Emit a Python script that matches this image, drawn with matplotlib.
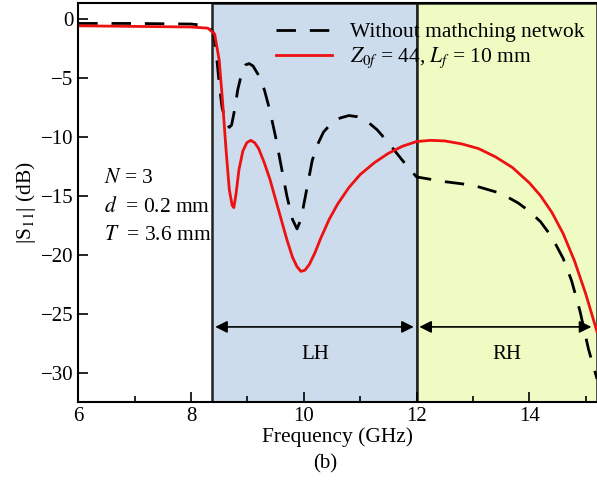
import numpy as np
import matplotlib
matplotlib.use("Agg")
import matplotlib.pyplot as plt
from matplotlib.ticker import MultipleLocator

plt.rcParams["font.family"] = ["Liberation Serif", "DejaVu Serif"]
plt.rcParams["mathtext.fontset"] = "stix"

# |S11| without matching network (black dashed)
f_ref = [6.0, 7.0, 8.0, 8.3, 8.4, 8.45, 8.5, 8.55, 8.62, 8.68, 8.72, 8.77, 8.83, 8.9,
         8.97, 9.03, 9.1, 9.2, 9.3, 9.4, 9.5, 9.6, 9.7, 9.8, 9.88, 9.95, 10.05, 10.15,
         10.25, 10.35, 10.5, 10.65, 10.8, 10.95, 11.1, 11.3, 11.5, 11.75, 12.0, 12.5,
         13.0, 13.5, 13.8, 14.0, 14.2, 14.4, 14.6, 14.75, 14.9, 15.05, 15.2]
s_ref = [-0.4, -0.4, -0.45, -0.6, -1.2, -3.0, -5.5, -7.5, -8.8, -9.2, -9.0, -7.8, -6.0,
         -4.6, -3.9, -3.8, -4.0, -4.8, -6.0, -7.8, -10.0, -12.5, -15.0, -17.0, -17.8,
         -17.0, -14.5, -12.0, -10.6, -9.6, -8.8, -8.4, -8.2, -8.3, -8.6, -9.4, -10.5,
         -12.0, -13.4, -13.8, -14.1, -14.8, -15.6, -16.3, -17.2, -18.5, -20.3, -22.2,
         -24.8, -28.0, -30.5]

# |S11| with matching network Z0f = 44, Lf = 10 mm (red)
f_mat = [6.0, 7.0, 8.0, 8.3, 8.42, 8.5, 8.56, 8.62, 8.68, 8.73, 8.76, 8.8, 8.85, 8.92,
         8.99, 9.06, 9.13, 9.2, 9.3, 9.4, 9.5, 9.6, 9.7, 9.8, 9.88, 9.95, 10.02, 10.1,
         10.2, 10.3, 10.45, 10.6, 10.8, 11.0, 11.25, 11.5, 11.75, 12.0, 12.25, 12.5,
         12.8, 13.1, 13.4, 13.7, 14.0, 14.2, 14.4, 14.6, 14.8, 15.0, 15.2]
s_mat = [-0.6, -0.65, -0.7, -0.8, -1.3, -3.5, -7.0, -11.0, -14.5, -15.8, -16.0, -14.8,
         -12.8, -11.2, -10.5, -10.3, -10.5, -11.0, -12.2, -13.6, -15.3, -17.0, -18.7,
         -20.2, -21.0, -21.4, -21.3, -20.8, -19.8, -18.6, -17.0, -15.7, -14.3, -13.2,
         -12.2, -11.4, -10.8, -10.4, -10.3, -10.35, -10.6, -11.0, -11.7, -12.6, -13.9,
         -15.0, -16.4, -18.2, -20.5, -23.3, -26.5]

lh_band = (8.38, 12.0)
rh_band = (12.0, 15.2)
params = ["$N$ = 3", "$d$  = 0.2 mm", "$T$  = 3.6 mm"]

fig = plt.figure(figsize=(5.97, 4.82), dpi=100)
ax = fig.add_axes([0.131, 0.165, 0.869, 0.828])

ax.axvspan(*lh_band, facecolor="#ccdcec", edgecolor="#222222", lw=1.8, zorder=0)
ax.axvspan(*rh_band, facecolor="#eefcc4", edgecolor="#222222", lw=1.8, zorder=0)

ax.plot(f_ref, s_ref, color="black", ls=(0, (7, 5)), lw=2.0,
        label="Without mathching netwok")
ax.plot(f_mat, s_mat, color="#ee1111", lw=2.0,
        label="$Z_{0f}$ = 44, $L_f$ = 10 mm")

arrow = dict(arrowstyle="<|-|>", color="black", lw=1.2, mutation_scale=18)
ax.annotate("", xy=(lh_band[0], -26.1), xytext=(lh_band[1], -26.1), arrowprops=arrow)
ax.annotate("", xy=(rh_band[0], -26.1), xytext=(15.15, -26.1), arrowprops=arrow)
ax.text(10.2, -28.4, "LH", ha="center", va="center", fontsize=15)
ax.text(13.6, -28.4, "RH", ha="center", va="center", fontsize=15)

for i, t in enumerate(params):
    ax.text(6.45, -13.5 - 2.45 * i, t, ha="left", va="center", fontsize=15.5)

ax.set_xlim(6, 15.2)
ax.set_ylim(-32.5, 1.3)
ax.xaxis.set_major_locator(MultipleLocator(2))
ax.xaxis.set_minor_locator(MultipleLocator(1))
ax.yaxis.set_major_locator(MultipleLocator(5))
ax.tick_params(direction="in", labelsize=15, width=1.2, length=7)
ax.tick_params(which="minor", direction="in", width=1.2, length=4)
for s in ax.spines.values():
    s.set_linewidth(1.5)
ax.spines["right"].set_visible(False)
ax.set_xlabel("Frequency (GHz)", fontsize=15.5, labelpad=1)
ax.set_ylabel("|S$_{11}$| (dB)", fontsize=15.5, labelpad=2)

ax.legend(loc="upper right", bbox_to_anchor=(1.0, 0.985), frameon=False,
          fontsize=15.5, handlelength=2.6, handletextpad=0.8,
          labelspacing=0.15, borderaxespad=0.2)

fig.text(0.545, 0.037, "(b)", ha="center", va="center", fontsize=15)

fig.savefig("out.png", dpi=100)
